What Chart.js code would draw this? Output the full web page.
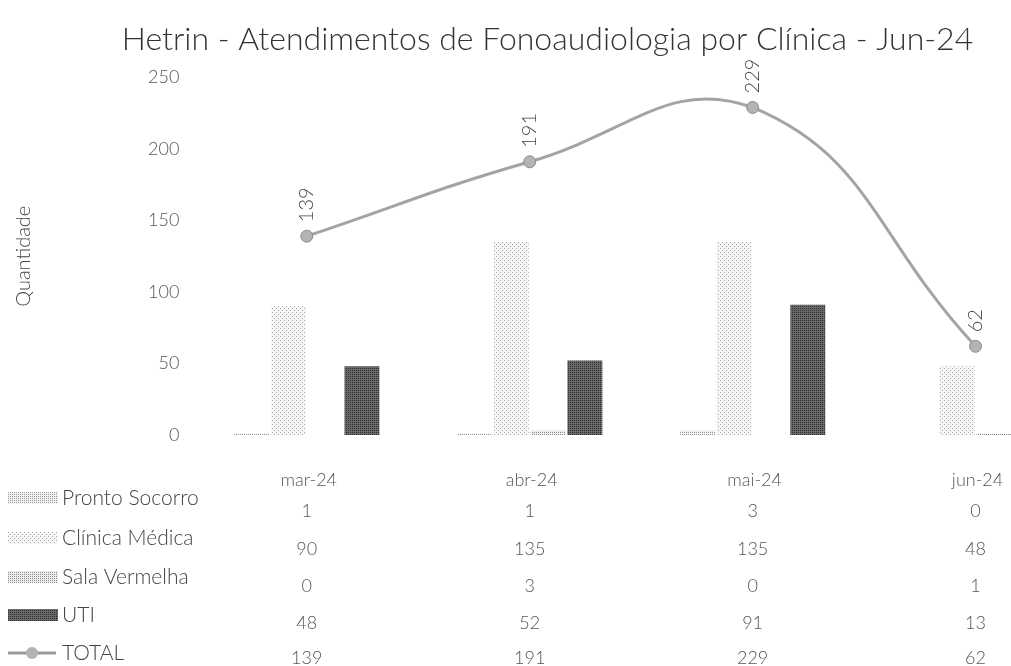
<!DOCTYPE html>
<html>
<head>
<meta charset="utf-8">
<script src="https://cdn.jsdelivr.net/npm/chart.js@4/dist/chart.umd.min.js"></script>
<style>
  html, body { margin: 0; padding: 0; background: #fff; overflow: hidden; }
  #wrap { width: 1100px; height: 666px; }
</style>
</head>
<body>
<div id="wrap"><canvas id="fonoChart" width="1100" height="666"></canvas></div>
<script>
const meses = ['mar-24', 'abr-24', 'mai-24', 'jun-24'];
const prontoSocorro = [1, 1, 3, 0];
const clinicaMedica = [90, 135, 135, 48];
const salaVermelha = [0, 3, 0, 1];
const uti = [48, 52, 91, 13];
const total = [139, 191, 229, 62];
const yTicks = [0, 50, 100, 150, 200, 250];

// padrão pontilhado simples, parecido com a cópia escaneada
function makePattern(bg, fg, step) {
    const c = document.createElement('canvas');
    c.width = 4; c.height = 4;
    const g = c.getContext('2d');
    g.fillStyle = bg;
    g.fillRect(0, 0, 4, 4);
    g.fillStyle = fg;
    g.fillRect(0, 0, 1, 1);
    g.fillRect(2, 2, 1, 1);
    if (step > 1) { g.fillRect(2, 0, 1, 1); g.fillRect(0, 2, 1, 1); }
    if (step > 2) { g.fillRect(1, 1, 1, 1); g.fillRect(3, 3, 1, 1); g.fillRect(1, 3, 1, 1); g.fillRect(3, 1, 1, 1); }
    return g.createPattern(c, 'repeat');
}

const fillPS = makePattern('#f2f2f2', '#9a9a9a', 2);
const fillCM = makePattern('#f6f6f6', '#a8a8a8', 1);
const fillSV = makePattern('#eeeeee', '#8e8e8e', 2);
const fillUTI = makePattern('#6a6a6a', '#2e2e2e', 2);

const series = [
    { label: 'Pronto Socorro', data: prontoSocorro, fill: fillPS },
    { label: 'Clínica Médica', data: clinicaMedica, fill: fillCM },
    { label: 'Sala Vermelha', data: salaVermelha, fill: fillSV },
    { label: 'UTI', data: uti, fill: fillUTI }
];

const FONT = 'Lato, "Open Sans", sans-serif';

// tabela de dados abaixo do gráfico + rótulos da linha
const tablePlugin = {
    id: 'tabela',
    afterDatasetsDraw(chart) {
        const ctx = chart.ctx;
        const lineMeta = chart.getDatasetMeta(4);

        ctx.save();
        ctx.fillStyle = '#444';
        ctx.font = '300 20px ' + FONT;
        ctx.textBaseline = 'middle';
        lineMeta.data.forEach((pt, i) => {
            ctx.save();
            ctx.translate(pt.x, pt.y - 14);
            ctx.rotate(-Math.PI / 2);
            ctx.textAlign = 'left';
            ctx.fillText(String(total[i]), 0, 0);
            ctx.restore();
        });
        ctx.restore();
    },
    afterDraw(chart) {
        const ctx = chart.ctx;
        const x = chart.scales.x;
        const rowY = [498, 538, 577, 615, 653];
        const valY = [511, 549, 586, 623, 658];

        ctx.save();
        ctx.textBaseline = 'middle';
        ctx.font = '300 18px ' + FONT;
        ctx.fillStyle = '#555';
        ctx.textAlign = 'center';
        meses.forEach((m, i) => {
            ctx.fillText(m, x.getPixelForValue(i) + 2, 480);
        });

        const rows = series.concat([{ label: 'TOTAL', data: total, line: true }]);
        rows.forEach((r, k) => {
            const y = rowY[k];
            if (r.line) {
                ctx.strokeStyle = '#9a9a9a';
                ctx.lineWidth = 3;
                ctx.beginPath();
                ctx.moveTo(8, y);
                ctx.lineTo(56, y);
                ctx.stroke();
                ctx.fillStyle = '#b4b4b4';
                ctx.beginPath();
                ctx.arc(32, y, 6, 0, Math.PI * 2);
                ctx.fill();
            } else {
                ctx.fillStyle = r.fill;
                ctx.fillRect(8, y - 6, 50, 12);
            }
            ctx.fillStyle = '#444';
            ctx.font = '300 21px ' + FONT;
            ctx.textAlign = 'left';
            ctx.fillText(r.label, 62, y);

            ctx.fillStyle = '#555';
            ctx.font = '300 18px ' + FONT;
            ctx.textAlign = 'center';
            r.data.forEach((v, i) => {
                ctx.fillText(String(v), x.getPixelForValue(i), valY[k]);
            });
        });
        ctx.restore();
    }
};

const datasets = series.map(s => ({
    type: 'bar',
    label: s.label,
    data: s.data,
    backgroundColor: s.fill,
    borderWidth: 0,
    categoryPercentage: 0.66,
    barPercentage: 0.95,
    order: 2
}));
datasets.push({
    type: 'line',
    label: 'TOTAL',
    data: total,
    borderColor: '#a4a4a4',
    borderWidth: 3,
    tension: 0.45,
    pointRadius: 6,
    pointBackgroundColor: '#b4b4b4',
    pointBorderColor: '#8c8c8c',
    pointBorderWidth: 1,
    order: 1
});

const ctx = document.getElementById('fonoChart').getContext('2d');
new Chart(ctx, {
    data: { labels: meses, datasets: datasets },
    options: {
        responsive: false,
        animation: false,
        layout: { padding: { left: 8, right: 13, bottom: 231 } },
        plugins: {
            legend: { display: false },
            tooltip: { enabled: false },
            title: {
                display: true,
                text: 'Hetrin - Atendimentos de Fonoaudiologia por Clínica - Jun-24',
                color: '#333',
                font: { size: 32, family: FONT, weight: 300 },
                padding: { top: 20, bottom: 19 }
            }
        },
        scales: {
            x: {
                display: false,
                grid: { display: false }
            },
            y: {
                min: 0,
                max: 250,
                afterBuildTicks: axis => { axis.ticks = yTicks.map(v => ({ value: v })); },
                grid: { display: false },
                border: { display: false },
                ticks: {
                    color: '#555',
                    padding: 8,
                    font: { size: 18, family: FONT, weight: 300 }
                },
                title: {
                    display: true,
                    text: 'Quantidade',
                    color: '#444',
                    font: { size: 20, family: FONT, weight: 300 },
                    padding: { top: 4, bottom: 104 }
                }
            }
        }
    },
    plugins: [tablePlugin]
});
</script>
</body>
</html>
